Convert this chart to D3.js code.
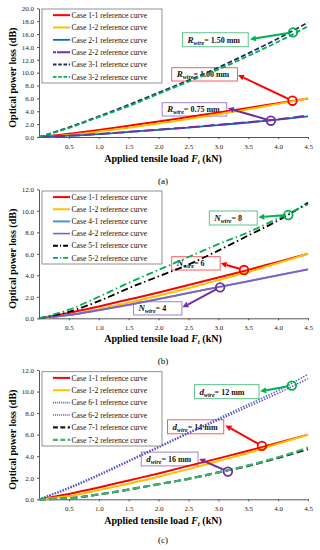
<!DOCTYPE html>
<html>
<head>
<meta charset="utf-8">
<script src="https://cdn.jsdelivr.net/npm/d3@7"></script>
<style>
  body { margin: 0; background: #fff; }
  text { font-family: "Liberation Serif", "Times New Roman", serif; }
</style>
</head>
<body>
<script>
// Load values (kN)
const loads = [0, 0.5, 1, 1.5, 2, 2.5, 3, 3.5, 4, 4.5];

// reference cases (dB)
const case11 = [0, 0.5, 1.1, 1.75, 2.4, 3.1, 3.8, 4.5, 5.25, 6.0];
const case12 = [0, 0.3, 0.85, 1.45, 2.1, 2.8, 3.55, 4.3, 5.15, 6.0];
const case21 = [0, 0.2, 0.45, 0.8, 1.1, 1.45, 1.85, 2.25, 2.7, 3.2];
const case22 = [0, 0.2, 0.45, 0.8, 1.15, 1.5, 1.9, 2.3, 2.75, 3.35];
const case31 = [0, 1.5, 3.2, 5.0, 6.9, 8.8, 10.8, 13.0, 15.3, 17.8];
const case32 = [0, 1.4, 3.1, 4.8, 6.7, 8.6, 10.5, 12.6, 14.8, 17.2];
const case41 = [0, 0.3, 0.75, 1.25, 1.8, 2.35, 2.9, 3.45, 4.0, 4.55];
const case42 = [0, 0.3, 0.75, 1.25, 1.8, 2.35, 2.9, 3.45, 4.0, 4.55];
const case51 = [0, 0.6, 1.6, 2.8, 3.9, 5.0, 6.3, 7.7, 9.1, 10.75];
const case52 = [0, 0.8, 2.0, 3.3, 4.5, 5.7, 6.9, 8.0, 9.3, 10.6];
const case61 = [0, 1.1, 2.3, 3.6, 4.9, 6.2, 7.5, 8.8, 10.1, 11.6];
const case62 = [0, 1.0, 2.2, 3.5, 4.8, 6.1, 7.35, 8.6, 9.85, 11.2];
const case71 = [0, 0.1, 0.45, 0.9, 1.4, 1.9, 2.5, 3.1, 3.85, 4.65];
const case72 = [0, 0.1, 0.45, 0.9, 1.4, 1.9, 2.5, 3.15, 3.9, 4.8];

const xTicks = [0.5, 1, 1.5, 2, 2.5, 3, 3.5, 4, 4.5];
const yTicksA = d3.range(0, 20.1, 2);
const yTicksBC = d3.range(0, 12.1, 2);

const width = 320, height = 550;
const svg = d3.select("body").append("svg")
  .attr("width", width).attr("height", height);

// styles of the lines
const RED = "#ff0000", YEL = "#ffc000", GRN = "#00b050", NAVY = "#1f2a6b", PUR = "#7030a0";

const panels = [
  {
    top: 8.3, bottom: 137, yMax: 20, yTicks: yTicksA, tag: "(a)", xLabY: 162, tagY: 184,
    legend: { y: 9, h: 74 },
    series: [
      { name: "Case 1-1 reference curve", v: case11, color: RED, w: 2 },
      { name: "Case 1-2 reference curve", v: case12, color: YEL, w: 2 },
      { name: "Case 2-1 reference curve", v: case21, color: "#0070c0", w: 1.8 },
      { name: "Case 2-2 reference curve", v: case22, color: PUR, w: 2, dash: "11,4" },
      { name: "Case 3-1 reference curve", v: case31, color: NAVY, w: 1.8, dash: "5,2.5" },
      { name: "Case 3-2 reference curve", v: case32, color: GRN, w: 1.8, dash: "5,2.5" }
    ],
    notes: [
      { sym: "R", val: "= 1.50 mm", color: GRN, box: "#5cc48a", bx: [2.40, 3.50], by: [16.2, 14.03], c: [4.25, 16.26], tip: [3.53, 15.18] },
      { sym: "R", val: "= 1.00 mm", color: RED, box: "#ff5b5b", bx: [2.22, 3.32], by: [10.77, 8.70], c: [4.24, 5.64], tip: [3.33, 9.63] },
      { sym: "R", val: "= 0.75 mm", color: PUR, box: "#a27fd0", bx: [2.06, 3.14], by: [5.33, 3.26], c: [3.88, 2.53], tip: [3.16, 4.46] }
    ]
  },
  {
    top: 189.3, bottom: 318.3, yMax: 12, yTicks: yTicksBC, tag: "(b)", xLabY: 342, tagY: 364,
    legend: { y: 191, h: 73 },
    series: [
      { name: "Case 1-1 reference curve", v: case11, color: RED, w: 2 },
      { name: "Case 1-2 reference curve", v: case12, color: YEL, w: 2 },
      { name: "Case 4-1 reference curve", v: case41, color: "#4f8fd8", w: 2 },
      { name: "Case 4-2 reference curve", v: case42, color: "#8a5cc8", w: 1.6 },
      { name: "Case 5-1 reference curve", v: case51, color: "#000", w: 1.8, dash: "7,3,1.5,3" },
      { name: "Case 5-2 reference curve", v: case52, color: GRN, w: 1.8, dash: "7,3,1.5,3" }
    ],
    notes: [
      { sym: "N", val: "= 8", color: GRN, box: "#5cc48a", bx: [2.85, 3.65], by: [9.98, 8.68], c: [4.17, 9.61], tip: [3.67, 9.40] },
      { sym: "N", val: "= 6", color: RED, box: "#ff5b5b", bx: [2.22, 3.03], by: [5.73, 4.49], c: [3.43, 4.49], tip: [3.04, 5.12] },
      { sym: "N", val: "= 4", color: PUR, box: "#a27fd0", bx: [1.58, 2.39], by: [1.54, 0.31], c: [3.03, 2.88], tip: [2.40, 1.02] }
    ]
  },
  {
    top: 370, bottom: 499.3, yMax: 12, yTicks: yTicksBC, tag: "(c)", xLabY: 523.5, tagY: 543,
    legend: { y: 371.7, h: 74.3 },
    series: [
      { name: "Case 1-1 reference curve", v: case11, color: RED, w: 2 },
      { name: "Case 1-2 reference curve", v: case12, color: YEL, w: 2 },
      { name: "Case 6-1 reference curve", v: case61, color: "#1f6fd0", w: 1.6, dash: "1.4,1.4" },
      { name: "Case 6-2 reference curve", v: case62, color: "#7a3fc0", w: 1.6, dash: "1.4,1.4" },
      { name: "Case 7-1 reference curve", v: case71, color: "#1a1a1a", w: 2.2, dash: "7,3.5" },
      { name: "Case 7-2 reference curve", v: case72, color: "#3cb371", w: 2.2, dash: "7,3.5" }
    ],
    notes: [
      { sym: "d", val: "= 12 mm", color: GRN, box: "#5cc48a", bx: [2.60, 3.68], by: [10.64, 9.34], c: [4.23, 10.55], tip: [3.70, 10.02] },
      { sym: "d", val: "= 14 mm", color: RED, box: "#ff5b5b", bx: [2.15, 3.09], by: [7.38, 6.08], c: [3.73, 4.96], tip: [3.12, 6.85] },
      { sym: "d", val: "= 16 mm", color: PUR, box: "#a27fd0", bx: [1.71, 2.66], by: [4.38, 3.10], c: [3.16, 2.57], tip: [2.68, 3.75] }
    ]
  }
];

const x = d3.scaleLinear().domain([0, 4.5]).range([39, 308]);

panels.forEach(p => {
  const y = d3.scaleLinear().domain([0, p.yMax]).range([p.bottom, p.top]);
  const g = svg.append("g");

  // axes
  const ya = g.append("g").attr("transform", "translate(39,0)")
    .call(d3.axisLeft(y).tickValues(p.yTicks).tickFormat(d3.format(".1f")).tickSize(2).tickSizeOuter(0).tickPadding(3));
  const xa = g.append("g").attr("transform", `translate(0,${p.bottom})`)
    .call(d3.axisBottom(x).tickValues(xTicks).tickFormat(d3.format(".1f")).tickSize(2).tickSizeOuter(0).tickPadding(5));
  [ya, xa].forEach(a => {
    a.selectAll("path, line").attr("stroke", "#555");
    a.selectAll("text").style("font-size", "7px").attr("fill", "#222");
  });

  // annotation boxes + text (under the lines)
  p.notes.forEach(n => {
    const x0 = x(n.bx[0]), x1 = x(n.bx[1]), y0 = y(n.by[0]), y1 = y(n.by[1]);
    g.append("rect").attr("x", x0).attr("y", y0).attr("width", x1 - x0).attr("height", y1 - y0)
      .attr("fill", "#fff").attr("stroke", n.box).attr("stroke-width", 1);
    const t = g.append("text").attr("x", x0 + 5).attr("y", y0 + (y1 - y0) / 2 + 3)
      .style("font-size", "8px").style("font-weight", "bold").attr("fill", "#111");
    t.append("tspan").style("font-style", "italic").style("font-size", "9px").text(n.sym);
    t.append("tspan").style("font-style", "italic").style("font-size", "6px").attr("dy", 2).text("wire");
    t.append("tspan").attr("dy", -2).text(n.val);
  });

  // curves
  const line = d3.line().x((d, i) => x(loads[i])).y(d => y(d)).curve(d3.curveMonotoneX);
  p.series.forEach(s => {
    g.append("path").datum(s.v).attr("d", line)
      .attr("fill", "none").attr("stroke", s.color).attr("stroke-width", s.w)
      .attr("stroke-dasharray", s.dash || null);
  });

  // arrows and circles
  p.notes.forEach(n => {
    const cx = x(n.c[0]), cy = y(n.c[1]), tx = x(n.tip[0]), ty = y(n.tip[1]);
    const ang = Math.atan2(ty - cy, tx - cx);
    const sx = cx + Math.cos(ang) * 4.5, sy = cy + Math.sin(ang) * 4.5;
    const hl = 6, hw = 3;
    const bx = tx - Math.cos(ang) * hl, by = ty - Math.sin(ang) * hl;
    g.append("line").attr("x1", sx).attr("y1", sy).attr("x2", bx).attr("y2", by)
      .attr("stroke", n.color).attr("stroke-width", 2);
    g.append("path")
      .attr("d", `M${tx},${ty}L${bx - Math.sin(ang) * hw},${by + Math.cos(ang) * hw}L${bx + Math.sin(ang) * hw},${by - Math.cos(ang) * hw}Z`)
      .attr("fill", n.color);
    g.append("circle").attr("cx", cx).attr("cy", cy).attr("r", 4.3)
      .attr("fill", "none").attr("stroke", n.color).attr("stroke-width", 1.8);
  });

  // legend
  const lg = g.append("g");
  lg.append("rect").attr("x", 42).attr("y", p.legend.y).attr("width", 120).attr("height", p.legend.h)
    .attr("fill", "#fff").attr("stroke", "#777").attr("stroke-width", 0.8);
  const step = p.legend.h / 6;
  p.series.forEach((s, i) => {
    const ly = p.legend.y + step * (i + 0.5);
    lg.append("line").attr("x1", 53).attr("x2", 70).attr("y1", ly).attr("y2", ly)
      .attr("stroke", s.color).attr("stroke-width", s.w)
      .attr("stroke-dasharray", s.dash ? (s.dash === "11,4" ? "3,1,13" : s.dash.split(",").map(v => v * 0.7).join(",")) : null);
    lg.append("text").attr("x", 71.5).attr("y", ly + 2.7).style("font-size", "7.6px").attr("fill", "#111").text(s.name);
  });

  // axis labels
  const xl = g.append("text").attr("x", 163).attr("y", p.xLabY).attr("text-anchor", "middle")
    .style("font-size", "10px").style("font-weight", "bold");
  xl.append("tspan").text("Applied tensile load ");
  xl.append("tspan").style("font-style", "italic").text("F");
  xl.append("tspan").style("font-style", "italic").style("font-size", "7px").attr("dy", 2).text("t");
  xl.append("tspan").attr("dy", -2).text(" (kN)");

  g.append("text").attr("transform", `translate(16,${(p.top + p.bottom) / 2 + 5}) rotate(-90)`)
    .attr("text-anchor", "middle").style("font-size", "10px").style("font-weight", "bold")
    .text("Optical power loss (dB)");

  g.append("text").attr("x", 163).attr("y", p.tagY).attr("text-anchor", "middle")
    .style("font-size", "9px").text(p.tag);
});
</script>
</body>
</html>
